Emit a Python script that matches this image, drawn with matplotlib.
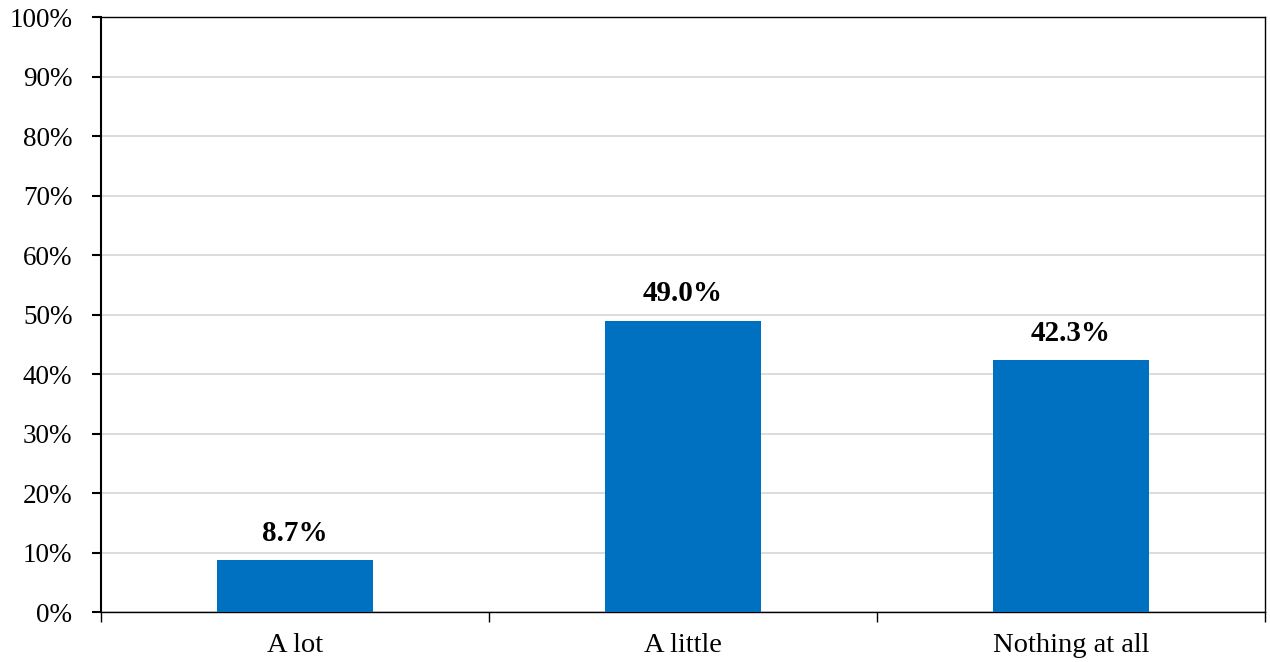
import matplotlib
matplotlib.use("Agg")
import matplotlib.pyplot as plt
from matplotlib.ticker import PercentFormatter

categories = ["A lot", "A little", "Nothing at all"]
values = [8.7, 49.0, 42.3]
yticks = [0, 10, 20, 30, 40, 50, 60, 70, 80, 90, 100]

plt.rcParams["font.family"] = ["Liberation Serif", "DejaVu Serif"]

fig = plt.figure(figsize=(12.7, 6.62), dpi=100)
ax = fig.add_axes([0.0795, 0.0755, 0.9165, 0.8985])

x = list(range(len(categories)))
ax.bar(x, values, width=0.4, color="#0070C0", zorder=3)
for xi, v in zip(x, values):
    ax.text(xi, v + 2.2, f"{v:.1f}%", ha="center", va="bottom",
            fontsize=21, fontweight="bold")

ax.set_xlim(-0.5, len(categories) - 0.5)
ax.set_ylim(0, 100)
ax.set_yticks(yticks)
ax.yaxis.set_major_formatter(PercentFormatter(decimals=0))
ax.grid(axis="y", color="#d9d9d9", linewidth=1.3, zorder=0)

ax.set_xticks(x)
ax.set_xticklabels(categories)
ax.set_xticks([i - 0.5 for i in range(len(categories) + 1)], minor=True)
ax.tick_params(axis="x", which="major", length=0, pad=15, labelsize=20.5)
ax.tick_params(axis="x", which="minor", length=7, width=1, direction="out")
ax.tick_params(axis="y", length=6.5, width=1.5, labelsize=19.5, pad=14)

for s in ax.spines.values():
    s.set_color("black")
ax.spines["left"].set_linewidth(1.5)
ax.spines["bottom"].set_linewidth(1.0)
ax.spines["top"].set_linewidth(1.0)
ax.spines["right"].set_linewidth(1.0)

fig.savefig("out.png", dpi=100)
